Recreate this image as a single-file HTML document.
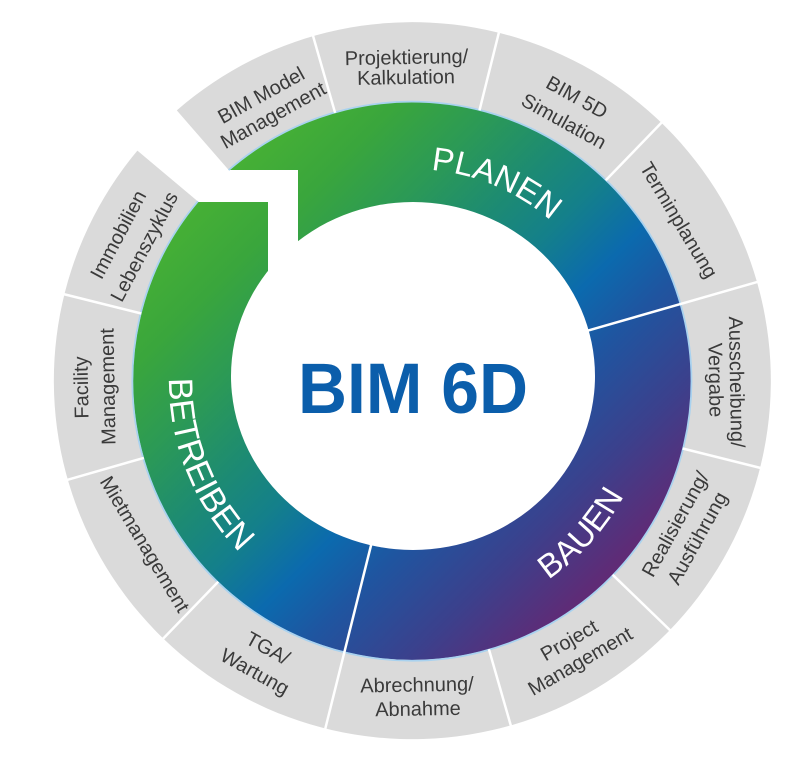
<!DOCTYPE html>
<html><head><meta charset="utf-8">
<style>
html,body{margin:0;padding:0;background:#fff;}
svg{display:block;}
text{font-family:"Liberation Sans",Arial,sans-serif;}
</style></head>
<body>
<svg width="800" height="769" viewBox="0 0 800 769" xmlns="http://www.w3.org/2000/svg">
<defs>
<linearGradient id="g" gradientUnits="userSpaceOnUse" x1="200" y1="200" x2="700" y2="700">
<stop offset="0" stop-color="#46b035"/>
<stop offset="0.1" stop-color="#3aa63c"/>
<stop offset="0.2" stop-color="#2c9a55"/>
<stop offset="0.3" stop-color="#1d8b72"/>
<stop offset="0.38" stop-color="#14808a"/>
<stop offset="0.47" stop-color="#0b6aae"/>
<stop offset="0.55" stop-color="#1f55a0"/>
<stop offset="0.67" stop-color="#3c408c"/>
<stop offset="0.78" stop-color="#5f2b76"/>
<stop offset="0.9" stop-color="#6c2468"/>
</linearGradient>
<clipPath id="c"><circle cx="412" cy="381" r="279.5"/></clipPath>
<path id="pPlan" d="M284.4,211.7 A212,212 0 0 1 622.4,355.2" fill="none"/>
<path id="pBau" d="M361.9,616.7 A241,241 0 0 0 641.2,306.5" fill="none"/>
<path id="pBet" d="M220.2,231.7 A243,243 0 0 0 378.6,621.7" fill="none"/>
</defs>

<!-- gray outer ring -->
<path d="M176.8,110.4 A358.5,358.5 0 1 1 137.4,150.6 L198.3,201.7 A279,279 0 1 0 229.0,170.4 Z" fill="#dadada"/>

<!-- colored ring -->
<path d="M133,381 A279,279 0 1 1 691,381 A279,279 0 1 1 133,381 Z M231,376 A182,174 0 1 0 595,376 A182,174 0 1 0 231,376 Z" fill="url(#g)" fill-rule="evenodd"/>

<!-- notch -->
<polygon points="100,170 298,170 298,300 268,300 268,202 100,202" fill="#fff" clip-path="url(#c)"/>

<!-- outline of colored ring -->
<path d="M228.6,170.1 A279.5,279.5 0 1 1 197.9,201.3" fill="none" stroke="#a9d2ef" stroke-width="1.8"/>

<!-- separators -->
<g stroke="#fff" stroke-width="2.5" fill="none">
<line x1="335.1" y1="112.8" x2="312.2" y2="33.0"/>
<line x1="479.5" y1="110.3" x2="499.6" y2="29.7"/>
<line x1="605.8" y1="180.3" x2="663.5" y2="120.6"/>
<line x1="565.8" y1="336.9" x2="760.0" y2="281.2"/>
<line x1="682.7" y1="448.5" x2="763.2" y2="468.6"/>
<line x1="612.7" y1="574.8" x2="672.4" y2="632.5"/>
<line x1="488.9" y1="649.2" x2="511.8" y2="729.0"/>
<line x1="373.3" y1="536.2" x2="324.4" y2="732.2"/>
<line x1="218.2" y1="581.7" x2="160.5" y2="641.4"/>
<line x1="143.8" y1="457.9" x2="64.0" y2="480.8"/>
<line x1="141.3" y1="313.5" x2="60.7" y2="293.4"/>
</g>

<!-- center title -->
<text x="413" y="413" font-size="71" font-weight="bold" fill="#0b5eab" text-anchor="middle" textLength="230" lengthAdjust="spacingAndGlyphs">BIM 6D</text>

<!-- ring labels -->
<text font-size="33" fill="#fff"><textPath href="#pPlan" startOffset="50%" text-anchor="middle">PLANEN</textPath></text>
<text font-size="33" fill="#fff"><textPath href="#pBau" startOffset="50%" text-anchor="middle">BAUEN</textPath></text>
<text font-size="34" fill="#fff"><textPath href="#pBet" startOffset="50%" text-anchor="middle">BETREIBEN</textPath></text>

<!-- gray segment labels -->
<g font-size="20" fill="#3a3a3a" text-anchor="middle">
<text transform="translate(261,95) rotate(-29)" y="7">BIM Model</text>
<text transform="translate(273,115) rotate(-29)" y="7">Management</text>

<text transform="translate(406.5,57) rotate(-1)" y="7">Projektierung/</text>
<text transform="translate(406,77) rotate(-1)" y="7">Kalkulation</text>

<text transform="translate(577,97) rotate(29)" y="7">BIM 5D</text>
<text transform="translate(564,121) rotate(29)" y="7">Simulation</text>

<text transform="translate(679,220) rotate(59)" y="7">Terminplanung</text>

<text transform="translate(737,382) rotate(89)" y="7">Ausscheibung/</text>
<text transform="translate(716,380) rotate(89)" y="7">Vergabe</text>

<text transform="translate(675,524) rotate(-61)" y="7">Realisierung/</text>
<text transform="translate(697,538) rotate(-61)" y="7">Ausführung</text>

<text transform="translate(569,640) rotate(-30)" y="7">Project</text>
<text transform="translate(580,661) rotate(-30)" y="7">Management</text>

<text transform="translate(417,684.5) rotate(-1)" y="7">Abrechnung/</text>
<text transform="translate(418,708.5) rotate(-1)" y="7">Abnahme</text>

<text transform="translate(268,648) rotate(29)" y="7">TGA/</text>
<text transform="translate(255,671.5) rotate(29)" y="7">Wartung</text>

<text transform="translate(145,544) rotate(59)" y="7">Mietmanagement</text>

<text transform="translate(81,387.5) rotate(-91)" y="7">Facility</text>
<text transform="translate(107.5,386.5) rotate(-91)" y="7">Management</text>

<text transform="translate(118,234.5) rotate(-62)" y="7">Immobilien</text>
<text transform="translate(144,246.5) rotate(-62)" y="7">Lebenszyklus</text>
</g>
</svg>
</body></html>
